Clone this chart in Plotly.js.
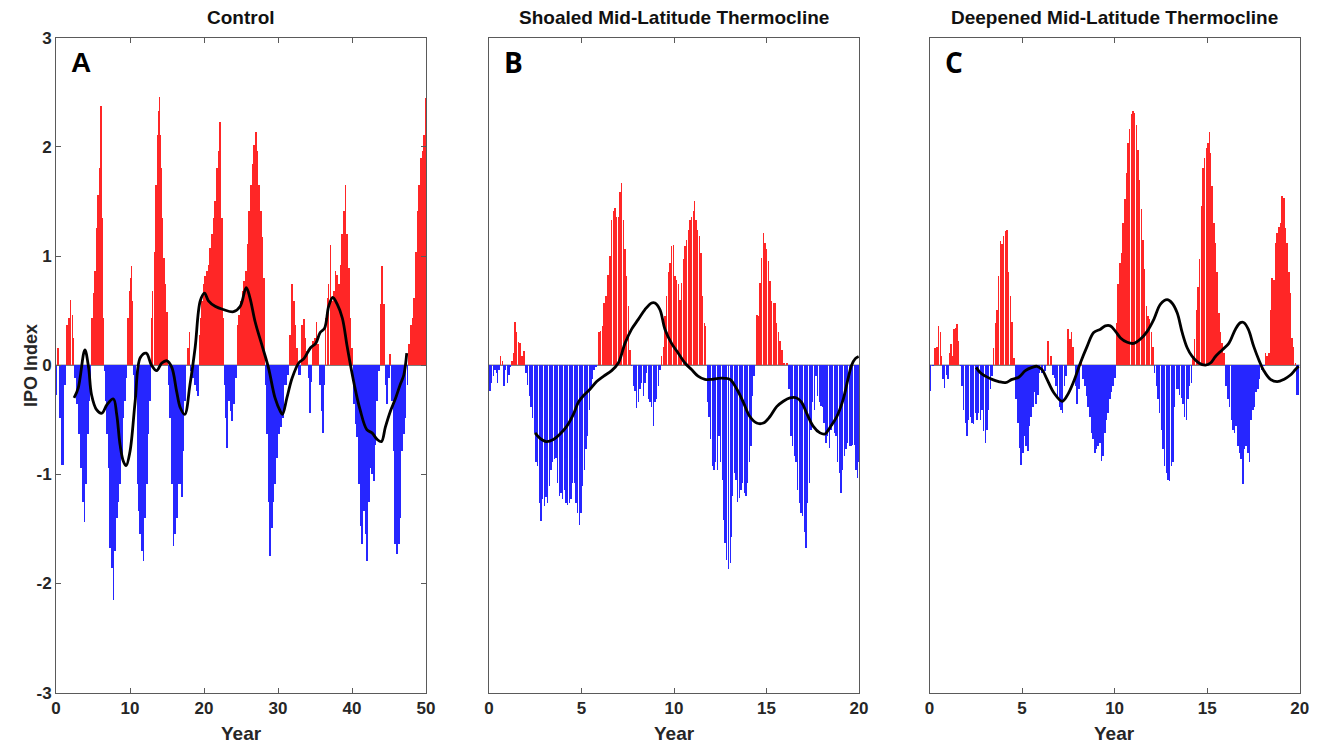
<!DOCTYPE html>
<html>
<head>
<meta charset="utf-8">
<script src="https://cdn.plot.ly/plotly-3.0.1.min.js"></script>
<style>html,body{margin:0;padding:0;background:#fff;}#chart{width:1320px;height:744px;}</style>
</head>
<body>
<div id="chart"></div>
<script>
// ---------------- DATA ----------------
const panelTitles = ["Control", "Shoaled Mid-Latitude Thermocline", "Deepened Mid-Latitude Thermocline"];
const panelLetters = ["A", "B", "C"];
const xTicksA = [0, 10, 20, 30, 40, 50];
const xTicksBC = [0, 5, 10, 15, 20];
const yTickVals = [-3, -2, -1, 0, 1, 2, 3];
const yTickText = ["-3", "-2", "-1", "0", "1", "2", "3"];

// Panel A: Control (IPO index, years 0-50)
const aYear = [0.05,0.32,0.54,0.90,1.17,1.53,1.76,1.98,2.21,2.39,2.62,2.89,3.16,3.43,3.65,3.83,4.06,4.29,4.51,4.69,
 4.87,5.05,5.28,5.50,5.68,5.86,6.00,6.09,6.18,6.27,6.40,6.54,6.72,6.90,7.08,7.31,7.53,7.76,7.98,8.21,
 8.43,8.66,8.89,9.11,9.34,9.52,9.70,9.92,10.06,10.19,10.38,10.51,10.69,11.01,11.19,11.37,11.59,11.82,12.04,12.27,
 12.49,12.67,12.90,13.08,13.26,13.40,13.53,13.71,13.85,13.94,14.07,14.21,14.39,14.57,14.80,15.02,15.20,15.43,15.65,15.88,
 16.10,16.33,16.55,16.78,17.01,17.23,17.46,17.82,18.00,18.18,18.45,18.72,18.99,19.17,19.35,19.53,19.71,19.94,20.16,20.39,
 20.61,20.84,21.07,21.29,21.52,21.74,21.97,22.19,22.42,22.60,22.78,22.96,23.14,23.37,23.59,23.82,24.04,24.31,24.54,24.77,
 24.99,25.22,25.44,25.67,25.89,26.12,26.34,26.57,26.79,27.02,27.25,27.47,27.70,27.92,28.10,28.28,28.51,28.73,28.96,29.18,
 29.41,29.63,29.86,30.09,30.36,30.63,30.99,31.35,31.63,31.89,32.12,32.34,32.57,32.88,33.24,33.47,33.69,33.92,34.14,34.32,
 34.51,34.73,34.96,35.19,35.41,35.64,35.86,36.09,36.27,36.45,36.67,36.85,37.08,37.30,37.53,37.76,37.98,38.21,38.43,38.66,
 38.88,39.11,39.34,39.56,39.79,40.01,40.24,40.46,40.69,40.91,41.14,41.37,41.59,41.82,42.04,42.27,42.49,42.72,42.94,43.17,
 43.39,43.62,43.84,44.07,44.29,44.52,44.75,44.97,45.15,45.38,45.60,45.83,46.10,46.32,46.55,46.78,47.00,47.23,47.50,47.72,
 47.95,48.17,48.40,48.62,48.85,49.08,49.30,49.53,49.71,49.89];
const aVal = [-0.27,0.16,-0.48,-0.91,-0.18,0.37,0.43,0.60,0.46,0.25,-0.12,-0.36,-0.63,-0.94,-1.25,-1.44,-1.09,-0.63,-0.33,-0.12,
 0.43,0.66,0.86,1.26,1.56,1.81,2.11,2.37,1.81,1.35,0.43,-0.05,-0.33,-0.63,-0.94,-1.67,-1.86,-2.15,-1.70,-1.40,
 -1.25,-1.09,-0.85,-0.48,-0.33,-0.12,0.43,0.68,0.80,0.91,0.59,-0.09,-0.33,-1.09,-1.34,-1.55,-1.70,-1.79,-1.40,-1.09,
 -0.63,-0.33,0.43,0.68,1.04,1.35,1.65,2.11,2.33,2.46,2.11,1.81,1.35,0.98,0.74,0.49,-0.18,-0.48,-1.09,-1.66,
 -1.55,-1.40,-1.09,-1.09,-1.21,-0.79,-0.33,0.16,0.30,-0.05,-0.12,-0.18,-0.24,-0.28,0.28,0.43,0.59,0.74,0.82,0.86,
 0.92,1.07,1.20,1.35,1.50,1.81,1.96,2.23,1.35,0.43,-0.18,-0.48,-0.76,-0.33,-0.42,-0.51,-0.36,-0.12,0.37,0.46,
 0.59,0.68,0.77,0.86,1.11,1.41,1.65,1.84,2.02,2.14,1.96,1.65,1.41,1.17,0.80,-0.18,-0.63,-1.25,-1.75,-1.49,
 -1.25,-1.09,-0.85,-0.63,-0.57,-0.48,-0.18,-0.09,0.28,0.74,0.59,0.37,0.16,-0.09,0.37,0.42,0.25,0.13,-0.12,-0.44,
 -0.15,0.22,0.25,0.40,0.19,-0.18,-0.42,-0.62,-0.18,0.43,0.62,0.74,1.10,0.59,0.68,0.86,0.83,0.74,0.92,1.20,
 1.41,1.65,1.20,0.89,0.43,0.16,-0.36,-0.54,-0.66,-1.09,-1.47,-1.64,-1.34,-1.55,-1.79,-1.25,-0.94,-1.00,-1.06,-0.73,
 -0.33,-0.05,0.56,0.91,0.56,-0.18,-0.36,-0.12,0.10,-0.33,-0.79,-1.64,-1.73,-1.64,-1.40,-0.79,-0.63,-0.48,-0.18,0.19,
 0.37,0.43,0.62,1.04,1.41,1.65,1.90,1.96,2.11,2.45];
const aLineYear = [2.44,3.0,3.9,4.4,4.8,5.5,6.2,6.9,7.76,8.2,8.66,9.1,9.47,10.0,10.7,11.4,12.2,12.9,13.6,14.3,
 15.0,15.65,16.3,16.8,17.4,18.1,18.8,19.5,20.07,20.6,21.5,22.6,24.0,24.9,25.7,26.2,26.9,27.8,28.7,29.6,
 30.3,30.6,31.2,31.9,32.8,33.5,34.4,35.1,35.7,36.3,36.85,37.4,38.0,38.7,39.3,39.8,40.5,41.1,42.0,42.7,
 43.4,43.98,44.5,45.2,45.9,46.5,47.0,47.4];
const aLineVal = [-0.30,-0.21,0.14,-0.02,-0.27,-0.41,-0.44,-0.36,-0.31,-0.45,-0.73,-0.88,-0.92,-0.79,-0.33,0.07,0.11,0.0,-0.05,0.02,
 0.04,-0.02,-0.24,-0.39,-0.45,-0.18,0.16,0.59,0.66,0.59,0.54,0.51,0.49,0.54,0.71,0.62,0.40,0.19,-0.02,-0.30,
 -0.42,-0.45,-0.30,-0.12,0.02,0.06,0.16,0.20,0.30,0.34,0.54,0.62,0.56,0.43,0.19,0.0,-0.24,-0.41,-0.59,-0.62,
 -0.68,-0.70,-0.57,-0.42,-0.30,-0.18,-0.09,0.11];

// Panel B: Shoaled mid-latitude thermocline (years 0-20)
const bYear = [0.05,0.14,0.23,0.32,0.41,0.47,0.54,0.63,0.72,0.81,0.90,0.99,1.08,1.15,1.24,1.33,1.41,1.50,1.59,1.68,
 1.77,1.89,2.00,2.09,2.18,2.27,2.36,2.45,2.54,2.63,2.72,2.81,2.90,2.99,3.08,3.17,3.26,3.35,3.44,3.53,
 3.62,3.71,3.80,3.89,3.98,4.07,4.16,4.25,4.34,4.43,4.52,4.61,4.70,4.79,4.88,4.97,5.06,5.15,5.24,5.33,
 5.42,5.51,5.60,5.69,5.80,5.95,6.04,6.13,6.22,6.31,6.45,6.54,6.63,6.72,6.81,6.90,6.99,7.08,7.17,7.26,
 7.35,7.44,7.53,7.62,7.71,7.80,7.89,7.98,8.07,8.16,8.25,8.34,8.43,8.52,8.61,8.70,8.79,8.88,8.97,9.06,
 9.15,9.24,9.33,9.42,9.51,9.60,9.69,9.78,9.87,9.96,10.05,10.14,10.23,10.32,10.41,10.50,10.59,10.68,10.77,10.86,
 10.95,11.05,11.10,11.19,11.28,11.37,11.46,11.55,11.64,11.71,11.80,11.89,11.98,12.07,12.16,12.25,12.34,12.43,12.52,12.61,
 12.68,12.76,12.85,12.94,13.03,13.08,13.17,13.26,13.35,13.44,13.53,13.62,13.71,13.80,13.89,13.98,14.07,14.16,14.25,14.34,
 14.47,14.56,14.65,14.74,14.83,14.92,15.01,15.10,15.19,15.28,15.37,15.46,15.55,15.64,15.73,15.82,15.96,16.09,16.23,16.32,
 16.41,16.50,16.59,16.68,16.77,16.86,16.95,17.04,17.13,17.22,17.31,17.40,17.49,17.58,17.67,17.76,17.85,17.94,18.03,18.12,
 18.22,18.31,18.40,18.49,18.58,18.67,18.76,18.85,18.94,19.03,19.12,19.21,19.30,19.39,19.48,19.57,19.66,19.75,19.84,19.91,19.96];
const bVal = [-0.24,-0.16,-0.10,-0.04,-0.07,-0.16,-0.04,0.08,0.04,-0.19,-0.04,-0.16,-0.09,-0.02,0.04,0.11,0.40,0.30,0.21,0.20,
 0.08,0.13,-0.07,-0.18,-0.28,-0.38,-0.48,-0.62,-0.89,-0.92,-1.26,-1.43,-1.23,-1.29,-1.21,-1.26,-1.11,-0.96,-0.89,-0.86,
 -0.85,-1.08,-1.20,-1.17,-1.23,-1.14,-1.26,-1.28,-1.26,-1.23,-1.08,-1.08,-1.26,-1.35,-1.46,-1.35,-1.11,-0.96,-0.77,-0.65,
 -0.41,-0.22,-0.13,-0.04,-0.02,0.30,0.31,0.36,0.57,0.63,0.83,1.00,1.33,1.41,1.44,1.36,1.36,1.59,1.67,1.33,
 1.06,0.82,0.54,0.14,-0.01,-0.19,-0.24,-0.39,-0.34,-0.22,-0.16,-0.28,-0.16,-0.07,-0.31,-0.34,-0.38,-0.56,-0.34,-0.31,
 -0.19,-0.04,0.08,0.17,0.45,0.63,0.85,0.94,1.09,1.10,0.82,0.78,0.74,0.60,0.75,0.97,1.09,1.15,1.24,1.33,
 1.36,1.41,1.50,1.33,1.24,1.18,1.03,0.63,0.39,0.36,-0.34,-0.47,-0.68,-0.92,-0.96,-0.89,-0.96,-0.65,-0.89,-1.05,
 -1.42,-1.63,-1.78,-1.87,-1.81,-1.57,-1.20,-0.99,-1.05,-1.25,-1.22,-1.14,-1.08,-1.17,-1.20,-1.08,-0.89,-0.74,-0.28,-0.10,
 0.46,0.45,0.75,0.98,1.21,1.12,1.06,0.95,0.77,0.59,0.57,0.57,0.39,0.30,0.22,0.14,0.02,0.02,-0.22,-0.65,
 -0.74,-0.83,-0.89,-1.14,-1.26,-1.35,-1.38,-1.53,-1.67,-1.26,-1.08,-0.59,-0.34,-0.41,-0.10,-0.28,-0.34,-0.37,-0.38,-0.53,
 -0.71,-0.65,-0.76,-0.59,-0.56,-0.62,-0.65,-0.89,-0.99,-1.17,-0.96,-0.83,-0.77,-0.71,-0.74,-0.74,-0.73,-0.73,-0.96,-1.03,-0.89];
const bLineYear = [2.49,2.76,3.1,3.48,3.84,4.2,4.56,4.83,5.1,5.46,5.82,6.2,6.63,6.99,7.35,7.71,8.07,8.43,8.79,8.97,
 9.24,9.51,9.87,10.23,10.59,10.95,11.3,11.67,12.03,12.4,12.75,13.03,13.4,13.75,14.1,14.47,14.83,15.19,15.55,15.91,
 16.27,16.63,16.9,17.17,17.53,17.89,18.16,18.43,18.8,19.15,19.4,19.6,19.8,19.98];
const bLineVal = [-0.62,-0.67,-0.70,-0.68,-0.63,-0.56,-0.45,-0.34,-0.28,-0.22,-0.15,-0.10,-0.05,0.02,0.20,0.33,0.42,0.51,0.57,0.57,
 0.51,0.33,0.20,0.11,0.02,-0.04,-0.10,-0.13,-0.13,-0.12,-0.12,-0.13,-0.22,-0.34,-0.47,-0.53,-0.53,-0.47,-0.38,-0.33,
 -0.30,-0.30,-0.34,-0.44,-0.56,-0.62,-0.63,-0.57,-0.47,-0.31,-0.13,0.0,0.06,0.08];

// Panel C: Deepened mid-latitude thermocline (years 0-20)
const cYear = [0.05,0.17,0.32,0.41,0.50,0.59,0.64,0.73,0.82,0.91,1.00,1.07,1.16,1.25,1.32,1.40,1.49,1.58,1.67,1.76,
 1.85,1.94,2.03,2.12,2.21,2.30,2.39,2.48,2.57,2.66,2.75,2.84,2.93,3.02,3.11,3.20,3.29,3.38,3.47,3.56,
 3.65,3.74,3.83,3.92,4.01,4.10,4.19,4.28,4.37,4.46,4.55,4.68,4.77,4.86,4.95,5.04,5.13,5.22,5.31,5.40,
 5.49,5.58,5.67,5.76,5.85,5.94,6.08,6.23,6.39,6.55,6.66,6.75,6.84,6.93,7.02,7.11,7.20,7.29,7.38,7.49,
 7.58,7.67,7.76,7.88,7.97,8.06,8.19,8.30,8.39,8.48,8.57,8.66,8.75,8.84,8.93,9.02,9.11,9.20,9.29,9.38,
 9.47,9.56,9.65,9.74,9.83,9.92,10.01,10.10,10.19,10.28,10.37,10.46,10.55,10.64,10.73,10.82,10.91,11.00,11.09,11.18,
 11.27,11.36,11.45,11.54,11.63,11.72,11.81,11.90,11.99,12.08,12.17,12.26,12.35,12.44,12.53,12.62,12.71,12.80,12.89,12.98,
 13.07,13.16,13.25,13.34,13.43,13.52,13.61,13.70,13.79,13.88,13.97,14.06,14.14,14.24,14.33,14.42,14.51,14.60,14.69,14.78,
 14.87,14.96,15.05,15.11,15.18,15.27,15.36,15.45,15.54,15.63,15.72,15.81,15.90,16.03,16.12,16.21,16.30,16.39,16.48,16.57,
 16.66,16.75,16.84,16.93,17.02,17.11,17.20,17.29,17.38,17.47,17.56,17.65,17.74,17.83,17.94,18.06,18.15,18.24,18.33,18.42,
 18.51,18.60,18.69,18.78,18.87,18.96,19.05,19.14,19.23,19.32,19.41,19.50,19.59,19.68,19.77,19.86,19.95];
const cVal = [-0.24,-0.01,0.16,0.17,0.36,0.30,0.08,-0.13,-0.21,-0.09,-0.13,0.11,0.19,0.08,0.33,0.34,0.38,0.22,-0.01,-0.19,
 -0.41,-0.53,-0.65,-0.50,-0.47,-0.53,-0.54,-0.44,-0.50,-0.44,-0.50,-0.41,-0.60,-0.71,-0.59,-0.41,-0.22,-0.10,0.16,0.39,
 0.51,0.82,1.14,1.11,1.18,1.23,1.24,0.85,0.63,0.40,0.07,-0.31,-0.53,-0.76,-0.91,-0.80,-0.65,-0.74,-0.79,-0.56,
 -0.47,-0.38,-0.25,-0.36,-0.27,-0.07,-0.07,-0.05,0.22,0.08,-0.09,-0.12,-0.19,-0.28,-0.38,-0.41,-0.44,-0.19,-0.10,0.33,
 0.24,0.30,0.17,-0.19,-0.36,-0.22,0.04,-0.13,-0.19,-0.28,-0.38,-0.47,-0.62,-0.68,-0.80,-0.77,-0.74,-0.71,-0.88,-0.83,
 -0.62,-0.50,-0.44,-0.31,-0.25,-0.19,-0.12,0.39,0.74,0.94,1.03,1.30,1.52,1.76,2.04,2.16,2.30,2.33,2.31,2.20,
 1.97,1.70,1.43,1.15,0.88,0.54,0.45,0.42,0.30,0.17,-0.07,-0.19,-0.31,-0.44,-0.59,-0.77,-0.92,-0.99,-1.05,-1.06,
 -0.92,-0.89,-0.38,-0.22,-0.22,-0.27,-0.30,-0.36,-0.47,-0.50,-0.31,-0.19,-0.16,0.08,0.24,0.51,0.72,0.97,1.46,1.81,
 1.90,1.99,2.04,2.14,1.94,1.64,1.30,1.12,0.85,0.48,0.30,0.20,0.11,-0.19,-0.31,-0.38,-0.50,-0.59,-0.62,-0.56,
 -0.74,-0.80,-0.86,-1.09,-0.77,-0.74,-0.80,-0.89,-0.50,-0.41,-0.38,-0.25,-0.22,-0.13,-0.04,-0.01,0.11,0.08,0.11,0.51,
 0.80,0.78,1.12,1.21,1.27,1.30,1.55,1.53,1.26,1.12,0.85,0.66,0.25,0.17,0.02,-0.27,-0.27];
const cLineYear = [2.52,2.75,3.02,3.38,3.74,4.1,4.46,4.82,5.18,5.54,5.81,6.08,6.35,6.71,7.16,7.43,7.79,8.15,8.51,8.87,
 9.24,9.5,9.77,10.05,10.32,10.68,11.04,11.4,11.76,12.12,12.48,12.84,13.1,13.38,13.65,13.92,14.19,14.55,14.91,15.18,
 15.45,15.81,16.17,16.53,16.8,16.98,17.22,17.52,17.79,18.06,18.42,18.78,19.14,19.5,19.77,19.95];
const cLineVal = [-0.02,-0.07,-0.10,-0.13,-0.15,-0.16,-0.13,-0.11,-0.05,-0.02,-0.01,-0.04,-0.13,-0.25,-0.33,-0.28,-0.15,0.02,0.17,0.30,
 0.33,0.36,0.36,0.31,0.25,0.21,0.20,0.24,0.31,0.42,0.56,0.60,0.57,0.48,0.30,0.16,0.08,0.02,0.0,0.02,
 0.08,0.14,0.20,0.33,0.39,0.39,0.33,0.17,0.05,-0.05,-0.13,-0.15,-0.13,-0.09,-0.04,-0.01];

// ---------------- STYLE / LAYOUT ----------------
const W = 1320, H = 744;
const RED = "#ff2626", BLUE = "#2626ff";
const FONT = "Liberation Sans, Arial, Helvetica, sans-serif";
const AXC = "#5a5a5a", TXT = "#262626";
const px = x => x / W, py = y => 1 - y / H;
const plotTop = 37.7, plotBot = 692.7;
const panels = [
  {l: 56, r: 426, xr: [0, 50], ticks: xTicksA, yr: aYear, yv: aVal, lx: aLineYear, lv: aLineVal, minW: 0.17, maxW: 0.35, frac: 1.0},
  {l: 489, r: 859, xr: [0, 20], ticks: xTicksBC, yr: bYear, yv: bVal, lx: bLineYear, lv: bLineVal, minW: 0.0, maxW: 0.14, frac: 0.86},
  {l: 929.5, r: 1299.7, xr: [0, 20], ticks: xTicksBC, yr: cYear, yv: cVal, lx: cLineYear, lv: cLineVal, minW: 0.0, maxW: 0.14, frac: 0.86}
];

function barWidths(xs, minW, maxW, frac) {
  return xs.map((x, i) => {
    const prev = i > 0 ? x - xs[i - 1] : (xs[1] - xs[0]);
    const next = i < xs.length - 1 ? xs[i + 1] - x : (x - xs[i - 1]);
    return Math.max(minW, Math.min((prev + next) / 2, maxW) * frac);
  });
}

const traces = [];
const layout = {
  width: W, height: H, margin: {l: 0, r: 0, t: 0, b: 0},
  paper_bgcolor: "#fff", plot_bgcolor: "#fff", showlegend: false,
  bargap: 0, barmode: "overlay",
  font: {family: FONT, color: TXT},
  shapes: [], annotations: []
};

panels.forEach((p, i) => {
  const sx = i === 0 ? "" : String(i + 1);
  // draw smaller |values| first so peaks stay visible when bars overlap
  const order = p.yr.map((_, k) => k).sort((a, b) => Math.abs(p.yv[a]) - Math.abs(p.yv[b]));
  const w = barWidths(p.yr, p.minW, p.maxW, p.frac);
  traces.push({
    type: "bar", x: order.map(k => p.yr[k]), y: order.map(k => p.yv[k]), width: order.map(k => w[k]),
    marker: {color: order.map(k => p.yv[k] >= 0 ? RED : BLUE), line: {width: 0}},
    xaxis: "x" + sx, yaxis: "y" + sx, hoverinfo: "skip"
  });
  traces.push({
    type: "scatter", mode: "lines", x: p.lx, y: p.lv,
    line: {color: "#000", width: 2.8, shape: "spline", smoothing: 1},
    xaxis: "x" + sx, yaxis: "y" + sx, hoverinfo: "skip"
  });
  layout["xaxis" + sx] = {
    domain: [px(p.l), px(p.r)], range: p.xr, anchor: "y" + sx,
    tickvals: p.ticks, ticktext: p.ticks.map(String), ticks: "inside", ticklen: 5, tickwidth: 1, tickcolor: AXC,
    showline: true, linecolor: AXC, linewidth: 1, mirror: "ticks", showgrid: false, zeroline: false,
    tickfont: {family: FONT, size: 17, weight: "bold", color: TXT}
  };
  const ya = {
    domain: [py(plotBot), py(plotTop)], range: [-3, 3], anchor: "x" + sx,
    showline: true, linecolor: AXC, linewidth: 1, showgrid: false, zeroline: false
  };
  if (i === 0) {
    Object.assign(ya, {tickvals: yTickVals, ticktext: yTickText, ticks: "inside", ticklen: 5, tickwidth: 1,
      tickcolor: AXC, mirror: "ticks", tickfont: {family: FONT, size: 17, weight: "bold", color: TXT}});
  } else {
    Object.assign(ya, {ticks: "", showticklabels: false, mirror: true});
  }
  layout["yaxis" + sx] = ya;
  layout.shapes.push({type: "line", xref: "x" + sx, yref: "y" + sx, x0: p.xr[0], x1: p.xr[1], y0: 0, y1: 0,
    line: {color: "#444", width: 1}, layer: "below"});
  const cx = (p.l + p.r) / 2;
  layout.annotations.push({text: panelTitles[i], xref: "paper", yref: "paper", x: px(cx), y: py(18),
    showarrow: false, xanchor: "center", yanchor: "middle", font: {family: FONT, size: 19, weight: "bold", color: "#111"}});
  layout.annotations.push({text: "Year", xref: "paper", yref: "paper", x: px(cx), y: py(733),
    showarrow: false, xanchor: "center", yanchor: "middle", font: {family: FONT, size: 19, weight: "bold", color: TXT}});
  layout.annotations.push({text: panelLetters[i], xref: "paper", yref: "paper", x: px(p.l + 13), y: py(62),
    showarrow: false, xanchor: "left", yanchor: "middle",
    font: {family: i === 0 ? FONT : "Open Sans, " + FONT, size: 28, weight: "bold", color: "#000"}});
});
layout.annotations.push({text: "IPO Index", xref: "paper", yref: "paper", x: px(31), y: py(365), textangle: -90,
  showarrow: false, xanchor: "center", yanchor: "middle", font: {family: FONT, size: 18, weight: "bold", color: TXT}});

Plotly.newPlot("chart", traces, layout, {staticPlot: true, displayModeBar: false});
</script>
</body>
</html>
